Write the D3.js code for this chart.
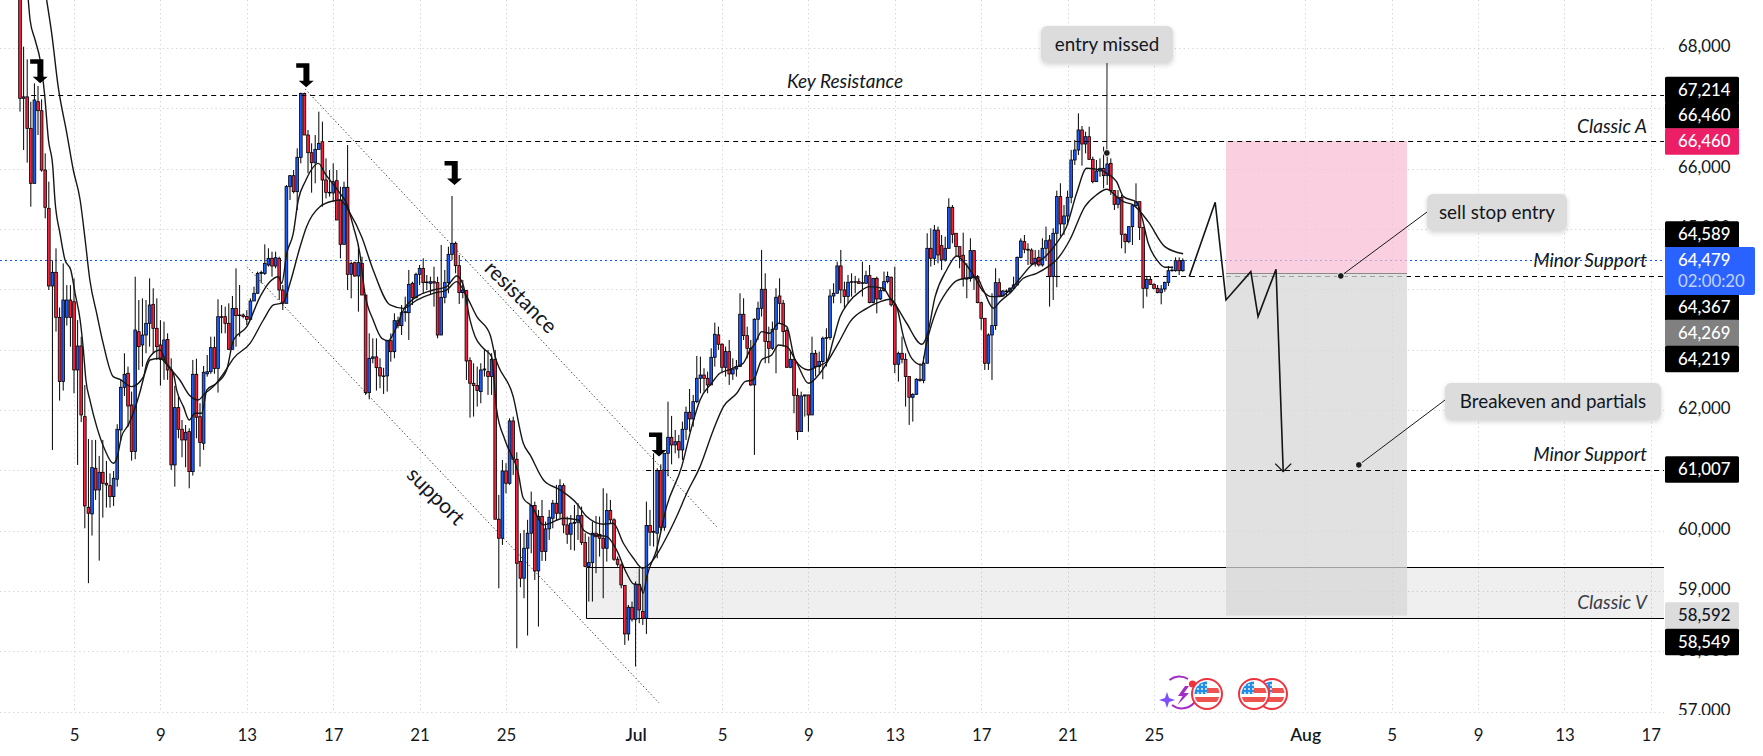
<!DOCTYPE html>
<html>
<head>
<meta charset="utf-8">
<title>BTCUSD 4H</title>
<script src="https://cdnjs.cloudflare.com/ajax/libs/d3/7.9.0/d3.min.js"></script>
<style>
  html, body { margin: 0; padding: 0; background: #fff; }
  svg { display: block; }
  text { font-family: Lato, "Noto Sans", sans-serif; }
</style>
</head>
<body>
<svg id="chart" width="1763" height="756"></svg>
<script>
// Four-hour candles. Bar 0 is the 5 June open, six bars to a day.
const firstBar = -15;

const opens = [
  69800,67166,67190,66668,65757,67110,66961,65978,65343,64056,
  64282,63536,62471,63536,63823,63795,62664,63061,61890,60388,
  60278,61035,60675,60968,60786,60747,60565,60853,61670,62377,
  62609,62084,61311,63298,63078,63243,63437,63751,63354,63078,
  62840,63171,62664,61090,62040,61681,61504,61642,60979,62592,
  61890,61449,62600,62635,63034,62690,63547,63547,63437,63006,
  63685,63564,63575,63550,63503,63807,63934,64265,64265,64403,
  64514,64387,64514,63989,63768,65702,65884,65619,66188,67248,
  66558,66265,66099,66320,66447,65812,65608,65597,65801,65481,
  64746,65691,64249,64442,64221,64431,63906,62288,62857,62880,
  62702,62565,62565,63149,62967,63481,63398,63613,63613,64100,
  63862,64249,64348,64111,64100,64127,64111,63243,63868,64111,
  64580,64763,64393,63946,63979,62819,62443,62405,62305,62664,
  62636,62554,62841,60190,59875,60990,60786,61819,61184,59488,
  59212,59709,59958,60416,59333,60234,59654,60030,60206,60455,
  60289,60747,60096,59941,60123,60140,60250,59803,59405,59470,
  59958,59940,59875,59709,60334,60180,59527,59433,59090,58289,
  58731,58532,59112,58660,58549,60085,59974,59958,60996,60057,
  61283,61548,61421,61476,61338,61681,61963,61852,62139,62526,
  62580,62526,62416,62874,63245,63090,62708,62968,62598,62680,
  62720,63587,63233,63023,62416,63504,63686,64001,63134,63023,
  63338,63890,63769,63316,62708,62841,62239,61642,62233,62250,
  61918,62940,62719,62803,63189,63200,63890,63935,64388,63990,
  63880,64117,64127,64127,64100,64100,64227,63780,64183,63840,
  63979,64128,64200,63743,62758,62940,62841,62554,62211,62260,
  62510,62490,62775,64680,64515,64982,64725,64487,64680,65360,
  64929,64708,64565,64172,64180,64642,64211,63780,63520,62775,
  63244,63399,64111,63890,63973,63960,64019,64073,64531,64791,
  64664,64650,64421,64531,64404,64680,64818,64211,64929,65537,
  65084,65216,65526,66144,66309,66641,66409,66530,66155,65785,
  65961,66006,65884,66088,65636,65409,65525,64912,64790,65039,
  65387,65453,65028,64017,64166,64083,64017,63945,64006,64116,
  64309,64309,64475,64309
];

const highs = [
  70000,68022,67812,67110,67414,67370,67149,66254,65785,64480,
  64680,63700,64430,64070,64070,64180,63490,63215,62415,61520,
  61504,61504,61239,61504,61156,60950,60990,61764,62500,62940,
  62719,62305,64210,63823,63850,63823,64182,64017,63851,63490,
  63464,63271,62857,62400,62222,61835,61752,61697,62830,62850,
  62112,62730,62912,63216,63216,63835,63740,63713,63768,63890,
  64348,64072,63600,63658,63851,64044,64293,64310,64746,64680,
  64624,64624,64541,64072,65729,65895,65978,66337,67260,67260,
  66641,66420,66558,66945,66779,66171,65978,66088,65978,65702,
  65784,66392,64459,64459,64746,64541,63906,63271,63188,63188,
  62857,62700,63149,63271,63602,63547,63740,63879,64321,64127,
  64276,64403,64514,64238,64210,64376,64210,64735,64321,64707,
  65548,64791,64570,64156,63990,62874,62775,62720,62775,62996,
  62996,62940,62996,60593,61173,61118,61863,61890,61300,59958,
  60013,60180,60648,60482,60344,60510,60151,60344,60510,60759,
  60852,60786,60234,60261,60427,60455,60400,59958,59902,60151,
  60245,60234,60703,60620,60510,60206,59571,59460,59101,58770,
  58825,59157,59377,59377,60482,60344,61283,61035,61100,61283,
  62139,61902,61670,61587,61808,62057,62349,62250,62896,62885,
  62692,62636,63023,63449,63382,63106,63051,63161,62857,62830,
  63935,63852,63382,63161,63520,63796,64653,64266,63382,63465,
  64018,64183,63824,63355,62996,62841,62360,62305,62250,62250,
  63216,62996,62968,63217,63355,64001,64100,64459,64653,64128,
  64239,64266,64222,64183,64459,64310,64404,64183,64211,64018,
  64294,64294,64211,64377,62968,63217,62941,62554,62278,62526,
  62775,62885,64929,65012,65067,65040,64901,64874,65509,65398,
  64929,64708,64940,64432,64846,64653,64238,63797,63520,63272,
  63935,64349,64183,63990,64000,64030,64211,64542,64846,64901,
  64763,64680,64653,64653,64846,65040,64901,65012,65636,65758,
  65398,65636,66310,66475,66917,66707,66613,66696,66199,66144,
  66171,66364,66309,66171,65636,65646,65564,64928,65039,65387,
  65757,65453,65028,64220,64220,64100,64072,64072,64127,64387,
  64376,64530,64530,64514
];

const lows = [
  66945,66309,66100,65370,65757,66558,65950,65177,63989,61338,
  63300,62156,62322,63400,63050,62277,61090,61800,60040,59130,
  59919,60510,59504,60217,60383,60383,60410,60730,61493,62233,
  61725,61161,61184,62664,62719,62940,63050,62940,62830,62404,
  62500,62500,61007,60730,61532,61217,61051,60703,60913,61532,
  61062,61338,62553,62600,62600,62289,63271,63271,62995,63006,
  63050,63216,63520,63409,63492,63807,63934,64100,64238,64376,
  64210,64348,63823,63658,63768,65481,65591,65315,66088,66558,
  65923,65602,65757,66320,65370,65508,65536,65453,65149,64514,
  64746,63989,63851,64210,63630,63906,62250,62178,62774,62322,
  62360,62266,62305,62801,62857,63354,63243,63464,63161,63740,
  63851,64072,63934,63989,63906,63713,63188,63243,63768,63934,
  64487,64266,63758,63852,62498,61874,61891,62057,62112,62554,
  62250,62250,60190,59046,59764,60620,60759,60924,58052,59063,
  58880,58262,59626,59184,58411,59499,59499,59847,60040,60179,
  60206,59958,59781,59681,59670,59847,59764,59394,58825,58825,
  59295,59571,58880,59488,60123,59500,59405,59046,58107,58179,
  58494,57748,58466,58438,58289,59748,59737,59543,60000,60000,
  60900,61100,61283,61200,61173,61504,61642,61725,62112,62277,
  62305,62277,62416,62719,62996,62609,62554,62416,62499,62554,
  62720,63161,62857,62400,61256,63161,63548,62775,62775,62996,
  62609,63438,63051,62700,62692,61946,61504,61642,61891,61642,
  61918,62554,62609,62510,62720,63161,63769,63935,63769,63686,
  63769,63880,63935,64090,63880,64100,63769,63769,63603,63824,
  63960,64100,63714,62609,62471,62775,62057,61753,61808,62250,
  62470,62443,62775,64377,64404,64432,64322,64460,64680,64763,
  64543,64349,64045,63852,64128,63990,63769,63327,62664,62664,
  62499,63327,63879,63879,63879,63935,63990,64073,64515,64598,
  64404,64404,64377,64377,64377,64487,63714,63824,64034,64874,
  64901,65067,65426,66061,66226,66050,66254,66144,65757,65784,
  65867,65674,65729,65564,65315,65343,64680,64597,64763,64735,
  65370,64818,63685,63879,64072,64000,63934,63752,63961,64055,
  64293,64293,64237,64293
];

const closes = [
  67166,67190,66668,65757,67138,66961,65978,65359,64056,64282,
  63536,62471,63823,63823,63536,62664,63061,61918,60410,60289,
  61045,60675,60968,60786,60758,60565,60869,61681,62377,62592,
  62067,61311,63326,63050,63243,63437,63740,63354,63050,62840,
  63161,62664,61090,62040,61681,61504,61631,60979,62592,61880,
  61460,62625,62635,63034,62690,63547,63536,63437,63006,63685,
  63564,63575,63550,63503,63807,63934,64265,64280,64431,64514,
  64387,64525,63989,63768,65702,65884,65619,66188,67248,66558,
  66265,66099,66320,66420,65812,65608,65597,65784,65149,64746,
  65691,64249,64431,64221,64442,63906,62288,62857,62880,62702,
  62565,62555,63149,62967,63481,63398,63613,63630,64083,63862,
  64249,64348,64111,64122,64127,64105,63243,63868,64111,64580,
  64763,64393,63946,63990,62813,62443,62405,62322,62664,62680,
  62554,62841,60190,59875,60990,60786,61819,61184,59460,59212,
  59709,59958,60416,59333,60234,59654,60030,60223,60455,60289,
  60747,60096,59941,60123,60140,60250,59803,59405,59470,59958,
  59900,59875,59709,60334,60180,59527,59444,59101,58289,58731,
  58532,59112,58687,58549,60085,59974,59990,60996,60057,61283,
  61548,61421,61476,61338,61681,61963,61852,62139,62526,62580,
  62526,62416,62874,63255,63090,62708,62968,62598,62680,62720,
  63587,63233,63023,62416,63504,63686,64001,63134,63023,63338,
  63868,63769,63299,62708,62841,62239,61642,62233,62250,61918,
  62940,62719,62803,63189,63200,63890,63935,64388,63990,63880,
  64117,64127,64120,64100,64110,64227,63780,64183,63840,63979,
  64128,64212,63743,62758,62940,62841,62554,62211,62260,62510,
  62490,62775,64680,64515,64982,64570,64487,64680,65360,64912,
  64708,64542,64172,64180,64642,64211,63780,63520,62775,63244,
  63399,64111,63890,63973,63960,64019,64073,64531,64802,64664,
  64650,64421,64515,64404,64680,64807,64211,64929,65537,65084,
  65216,65526,66144,66309,66641,66409,66530,66155,65785,65961,
  66006,65884,66077,65636,65409,65525,64912,64790,65039,65387,
  65453,65028,64017,64166,64083,64017,63945,64006,64116,64309,
  64319,64475,64309,64479
];

// Fast moving average, as [bar, price]
const fastAverage = [
  [-12.7,68795],[-12.2,68464],[-10.8,68132],[-9.4,67801],[-8.2,67248],[-7.1,66475],[-5.9,66033],[-5.3,65481],
  [-3.9,64928],[-2.5,64486],[-0.9,64321],[0.3,63934],[1.7,63492],[2.6,62995],[3.3,62498],[4.4,62167],[6.3,61725],
  [8.6,61338],[10.9,61117],[11.9,61200],[13.2,61559],[15.1,61753],[17.4,62112],[19.3,62526],[20.2,62774],[22.5,62967],
  [23.9,62995],[25.7,62774],[27.6,62608],[28.5,62333],[30.4,62056],[32,61835],[33.6,61946],[35.5,61946],[36.9,62333],
  [39.6,62443],[42.4,62664],[44.3,63161],[48,63381],[51.7,63879],[54.4,64127],[56.8,64210],[57.7,64100],[59.1,64597],
  [60.9,64928],[62.3,65481],[64.2,65784],[67.9,66088],[69.7,65922],[73.9,65591],[75.7,65425],[77.6,65039],[79.4,64597],
  [80.8,63934],[83.1,63492],[85.5,63188],[87.3,63149],[89.2,63326],[91.5,63658],[95.2,63879],[99.8,63989],[103.5,64044],
  [106.3,64222],[108.1,64073],[110,63493],[111.4,63217],[113.7,63023],[116,62885],[117.4,62001],[119.7,61504],
  [123.4,60952],[124.8,60538],[127.1,60411],[130.4,60096],[132.2,60123],[135.9,60206],[140.1,60178],[141.5,60013],
  [144.3,59930],[148,59902],[150.7,59681],[153.5,59295],[155.4,59118],[157.2,59101],[158.1,58963],[159.1,59239],
  [161.8,59681],[164.6,60399],[168.8,61062],[171.6,61725],[173.9,62167],[177.1,62443],[179.4,62609],[181.8,62664],
  [184.1,62719],[185.9,62775],[187.8,62996],[189.2,63106],[191,63299],[193.3,63272],[195.7,63438],[198,63382],
  [200.3,62830],[204,62664],[206.3,62719],[209.1,62802],[210.9,63161],[212.8,63548],[215,63769],[218.3,63962],
  [221,64045],[224.8,64018],[226.7,63852],[228.5,63714],[231.3,63438],[235.5,63090],[237,63244],[239.2,63879],
  [242.4,64321],[245.2,64553],[247.5,64432],[249.8,64238],[252.6,63962],[254.9,63879],[257.2,63879],[260,63990],
  [262.8,64183],[266,64404],[269.3,64515],[272.9,64763],[275.7,65039],[278.5,65592],[281.3,66006],[285,65979],
  [286.9,65923],[289.6,65785],[291.5,65537],[295.2,65443],[296.6,65205],[298.4,64763],[300.8,64487],[303,64367],[305.3,64367]
];

// Slow moving average, as [bar, price]
const slowAverage = [
  [-7.6,68795],[-6.2,68243],[-4.4,67359],[-2,66586],[-0.2,65978],[1.7,65481],[3.1,64818],[4.4,64155],[6.3,63602],
  [8.1,63105],[10.9,62553],[12.8,62508],[16,62388],[19.3,62553],[21.1,62829],[23.9,62857],[26.2,62719],[29.4,62498],
  [32,62250],[34.5,62167],[36.4,62277],[38.7,62388],[41.9,62636],[44.3,62857],[48.9,63105],[52.6,63492],[55.4,63741],
  [58.1,63779],[60,64100],[62.8,64707],[64.6,65039],[68.3,65370],[72,65464],[73.9,65481],[76.7,65260],[79.9,64873],
  [83.1,64321],[87.8,63741],[91.5,63685],[95.2,63823],[99.8,63934],[103.5,63989],[106.3,64128],[109.1,63879],
  [111.9,63548],[115.6,63244],[117,62885],[122,62222],[124.8,61449],[126.7,61255],[130.4,60841],[135,60676],
  [139.6,60455],[142.4,60234],[147,60107],[149.8,60123],[152.6,59792],[155.4,59543],[157.9,59378],[160.9,59516],
  [163.7,59792],[167.4,60234],[170.2,60620],[173.9,61062],[177.6,61670],[180.4,62056],[184.1,62277],[186.4,62471],
  [188.7,62498],[191,62830],[193.8,62913],[195.7,63078],[198,63051],[200.8,62775],[204,62443],[207.2,62609],
  [209.6,62830],[212.8,63161],[215.6,63465],[220.2,63686],[224,63797],[226.7,63835],[228.5,63714],[230.4,63217],
  [232.7,62857],[235.5,62747],[236.8,63106],[239.6,63658],[242.4,63962],[245.2,64145],[247.5,64183],[250.7,64200],
  [252.6,63990],[255.4,63686],[257.2,63796],[260.4,63962],[263.7,64183],[267.4,64266],[270.6,64377],[272.9,64487],
  [276.6,64818],[280.8,65371],[284,65564],[286.9,65658],[289.6,65537],[291.5,65454],[294.2,65399],[298.4,65122],
  [303,64708],[308.1,64589]
];

// Axis ticks
const gridPrices = [68000,67000,66000,65000,64000,63000,62000,61000,60000,59000,58000,57000];
const priceTickLabels = [68000,66000,65000,62000,60000,59000,58000,57000];
const dateTickBars = [0,24,48,72,96,120,156,180,204,228,252,276,300,342,366,390,414,438];
const dateTickLabels = ["5","9","13","17","21","25","Jul","5","9","13","17","21","25","Aug","5","9","13","17"];

// Horizontal levels: price and first bar
const levelPrices = [67214, 66460, 61007];
const levelStartBars = [-11.9, 70.6, 158.9];
const minorSupportPrice = 64219;
const minorSupportStart = 270;
const lastPrice = 64479;

// Demand zone
const zoneTop = 59399;
const zoneBottom = 58549;
const zoneStartBar = 142.1;

// Short position drawing
const stopPrice = 66460;
const entryPrice = 64269;
const targetPrice = 58592;
const positionBars = [320, 370.3];

// Channel lines, as [bar, price] pairs
const resistanceLine = [[64.2,67321],[178.5,60068]];
const supportLine = [[48,64376],[162.5,57147]];

// Projected path, as [bar, price]
const projectedPath = [[309.8,64211],[317,65443],[320,63824],[326.9,64293],[328.9,63548],[333.9,64333],[335.9,60979]];

// Swing markers: arrow tip at [bar, price]
const swingMarkers = [[-9.4,67415],[64.5,67349],[105.7,65730],[162.5,61228]];

// Price scale tags: text, fill, ink and tag centre
const tagTexts = ["67,214","66,460","66,460","64,589","64,367","64,269","64,219","61,007","58,592","58,549"];
const tagFills = ["#000","#000","#ec1e66","#000","#000","#808080","#000","#000","#dcdcdc","#000"];
const tagInks  = ["#fff","#fff","#fff","#fff","#fff","#fff","#fff","#fff","#131722","#fff"];
const tagCentres = [90,115.5,141.5,234.5,307.5,333,359,469.5,615.5,642];

const width = 1763, height = 756;
const paneRight = 1664, paneBottom = 712;

const x = d3.scaleLinear().domain([-20.56, 441.67]).range([0, paneRight]);
const y = d3.scaleLinear().domain([68000, 57000]).range([48, 711.7]);
// Horizontal rules sit on a pixel row so they stay one pixel thick
const rowY = p => Math.round(y(p)) + 0.5;

const svg = d3.select("#chart");
const defs = svg.append("defs");
defs.append("clipPath").attr("id", "pane").append("rect")
  .attr("x", 0).attr("y", 0).attr("width", paneRight).attr("height", paneBottom);
defs.append("clipPath").attr("id", "scale").append("rect")
  .attr("x", paneRight).attr("y", 0).attr("width", width - paneRight).attr("height", 715);
const soft = defs.append("filter").attr("id", "soft")
  .attr("x", "-10%").attr("y", "-20%").attr("width", "120%").attr("height", "150%");
soft.append("feDropShadow").attr("dx", 0).attr("dy", 2).attr("stdDeviation", 2.5)
  .attr("flood-color", "#000").attr("flood-opacity", 0.16);

// Dotted grid
const grid = svg.append("g").attr("stroke", "#cfd1d6").attr("stroke-width", 1).attr("stroke-dasharray", "1.2 3.2");
grid.selectAll("line.h").data(gridPrices).join("line").attr("class", "h")
  .attr("x1", 0).attr("x2", paneRight).attr("y1", d => rowY(d)).attr("y2", d => rowY(d));
grid.selectAll("line.v").data(dateTickBars).join("line").attr("class", "v")
  .attr("x1", d => Math.round(x(d)) + 0.5).attr("x2", d => Math.round(x(d)) + 0.5).attr("y1", 0).attr("y2", paneBottom);

// Last price line and the level that runs under the position box
svg.append("line").attr("x1", 0).attr("x2", paneRight).attr("y1", rowY(lastPrice)).attr("y2", rowY(lastPrice))
  .attr("stroke", "#0f55ff").attr("stroke-width", 1).attr("stroke-dasharray", "2 3");
svg.append("line").attr("x1", x(minorSupportStart)).attr("x2", paneRight)
  .attr("y1", rowY(minorSupportPrice)).attr("y2", rowY(minorSupportPrice))
  .attr("stroke", "#000").attr("stroke-width", 1).attr("stroke-dasharray", "5 4");

// Demand zone
const zone = svg.append("g");
zone.append("rect").attr("x", x(zoneStartBar)).attr("y", rowY(zoneTop))
  .attr("width", paneRight - x(zoneStartBar)).attr("height", rowY(zoneBottom) - rowY(zoneTop))
  .attr("fill", "rgba(120,123,134,0.12)");
zone.append("path")
  .attr("d", `M${paneRight},${rowY(zoneTop)}H${Math.round(x(zoneStartBar)) + 0.5}V${rowY(zoneBottom)}H${paneRight}`)
  .attr("fill", "none").attr("stroke", "#000").attr("stroke-width", 1);

// Channel lines
const priceLine = d3.line().x(d => x(d[0])).y(d => y(d[1]));
svg.append("g").selectAll("path").data([resistanceLine, supportLine]).join("path")
  .attr("d", priceLine).attr("fill", "none").attr("stroke", "#333")
  .attr("stroke-width", 1).attr("stroke-dasharray", "1.3 2.4");

// Candles
const candles = svg.append("g").attr("clip-path", "url(#pane)");
const bars = d3.range(opens.length);
candles.selectAll("line").data(bars).join("line")
  .attr("x1", i => x(i + firstBar)).attr("x2", i => x(i + firstBar))
  .attr("y1", i => y(highs[i])).attr("y2", i => y(lows[i]))
  .attr("stroke", "#000").attr("stroke-width", 1);
candles.selectAll("rect").data(bars).join("rect")
  .attr("x", i => x(i + firstBar) - 1.35).attr("width", 2.7)
  .attr("y", i => y(Math.max(opens[i], closes[i])))
  .attr("height", i => Math.max(0.6, Math.abs(y(opens[i]) - y(closes[i]))))
  .attr("fill", i => closes[i] >= opens[i] ? "#1f5cff" : "#f8203a")
  .attr("stroke", "#000").attr("stroke-width", 0.8);

// Moving averages
const smooth = d3.line().x(d => x(d[0])).y(d => y(d[1])).curve(d3.curveMonotoneX);
const averages = svg.append("g").attr("clip-path", "url(#pane)");
averages.selectAll("path").data([fastAverage, slowAverage]).join("path")
  .attr("d", smooth).attr("fill", "none").attr("stroke", "#161616").attr("stroke-width", 1.4);

// Short position box
const position = svg.append("g");
position.append("rect").attr("x", x(positionBars[0])).attr("width", x(positionBars[1]) - x(positionBars[0]))
  .attr("y", y(stopPrice)).attr("height", y(entryPrice) - y(stopPrice)).attr("fill", "rgba(248,192,214,0.75)");
position.append("rect").attr("x", x(positionBars[0])).attr("width", x(positionBars[1]) - x(positionBars[0]))
  .attr("y", y(entryPrice)).attr("height", y(targetPrice) - y(entryPrice)).attr("fill", "rgba(215,215,215,0.75)");
position.append("line").attr("x1", x(positionBars[0])).attr("x2", x(positionBars[1]))
  .attr("y1", rowY(entryPrice)).attr("y2", rowY(entryPrice)).attr("stroke", "#8a8a8a").attr("stroke-width", 1);

// Dashed levels
svg.append("g").selectAll("line").data(levelPrices).join("line")
  .attr("x1", (d, i) => x(levelStartBars[i])).attr("x2", paneRight)
  .attr("y1", d => rowY(d)).attr("y2", d => rowY(d))
  .attr("stroke", "#000").attr("stroke-width", 1).attr("stroke-dasharray", "5 4");

// Projected path with an open arrow head
svg.append("path").datum(projectedPath).attr("d", priceLine)
  .attr("fill", "none").attr("stroke", "#141414").attr("stroke-width", 1.6);
const tip = projectedPath[projectedPath.length - 1];
svg.append("path")
  .attr("d", `M${x(tip[0]) - 8},${y(tip[1]) - 8}L${x(tip[0])},${y(tip[1])}L${x(tip[0]) + 8},${y(tip[1]) - 8}`)
  .attr("fill", "none").attr("stroke", "#141414").attr("stroke-width", 1.4);

// Swing markers
svg.append("g").selectAll("path").data(swingMarkers).join("path")
  .attr("transform", d => `translate(${x(d[0])},${y(d[1])})`)
  .attr("d", "M0,0L-7.5,-6.5H-2.8V-19.5H-10V-24H3.2V-6.5H7.5Z")
  .attr("fill", "#000");

// Level captions
const captions = svg.append("g").attr("font-size", 19).attr("font-style", "italic").attr("fill", "#131722");
captions.append("text").attr("x", 845).attr("y", 81).attr("text-anchor", "middle").attr("dy", "0.35em").text("Key Resistance");
captions.append("text").attr("x", 1647).attr("y", 126).attr("text-anchor", "end").attr("dy", "0.35em").text("Classic A");
captions.append("text").attr("x", 1647).attr("y", 260).attr("text-anchor", "end").attr("dy", "0.35em").text("Minor Support");
captions.append("text").attr("x", 1647).attr("y", 454).attr("text-anchor", "end").attr("dy", "0.35em").text("Minor Support");
captions.append("text").attr("x", 1647).attr("y", 602).attr("text-anchor", "end").attr("dy", "0.35em").attr("fill", "#3a3d45").text("Classic V");

// Channel captions
const slanted = svg.append("g").attr("font-size", 21).attr("fill", "#131722").attr("text-anchor", "middle");
slanted.append("text").attr("transform", "translate(521,297) rotate(45)").attr("dy", "0.35em").text("resistance");
slanted.append("text").attr("transform", "translate(436,496) rotate(45)").attr("dy", "0.35em").text("support");

// Callouts: anchor [bar, price], box edges in px, where the leader meets the box
function callout(text, anchor, box, joint) {
  const g = svg.append("g");
  const ax = x(anchor[0]), ay = y(anchor[1]);
  g.append("line").attr("x1", ax).attr("y1", ay).attr("x2", joint[0]).attr("y2", joint[1])
    .attr("stroke", "#1a1a1a").attr("stroke-width", 1);
  g.append("circle").attr("cx", ax).attr("cy", ay).attr("r", 3.4)
    .attr("fill", "#1a1a1a").attr("stroke", "#fff").attr("stroke-width", 1);
  g.append("rect").attr("x", box[0]).attr("y", box[1]).attr("width", box[2] - box[0]).attr("height", box[3] - box[1])
    .attr("rx", 6).attr("fill", "#dcdcdc").attr("filter", "url(#soft)");
  g.append("text").attr("x", (box[0] + box[2]) / 2).attr("y", (box[1] + box[3]) / 2).attr("dy", "0.33em")
    .attr("text-anchor", "middle").attr("font-size", 18.8).attr("fill", "#131722").text(text);
}
callout("entry missed", [286.9, 66260], [1041, 26, 1173, 63], [1107, 62]);
callout("sell stop entry", [351.9, 64222], [1427, 194, 1567, 231], [1427, 212]);
callout("Breakeven and partials", [356.9, 61090], [1445, 383, 1661, 420], [1445, 400]);

// Price axis
const priceAxis = d3.axisRight(y).tickValues(priceTickLabels).tickFormat(d3.format(",")).tickSize(0).tickPadding(0);
const priceScaleG = svg.append("g").attr("clip-path", "url(#scale)");
const priceAxisG = priceScaleG.append("g").attr("transform", "translate(1678,-1.5)").call(priceAxis);
priceAxisG.select(".domain").remove();
priceAxisG.selectAll("text").attr("font-size", 16.8).attr("fill", "#131722").style("font-family", "Lato, 'Noto Sans', sans-serif");

// Date axis
const dateAxis = d3.axisBottom(x).tickValues(dateTickBars).tickFormat((d, i) => dateTickLabels[i]).tickSize(0).tickPadding(0);
const dateAxisG = svg.append("g").attr("transform", "translate(0,729)").call(dateAxis);
dateAxisG.select(".domain").remove();
dateAxisG.selectAll("text").attr("fill", "#131722")
  .style("font-family", "Lato, 'Noto Sans', sans-serif")
  .attr("font-size", (d, i) => /[A-Z]/.test(dateTickLabels[i]) ? 17.5 : 16.8)
  .attr("font-weight", (d, i) => /[A-Z]/.test(dateTickLabels[i]) ? 600 : 400);

// Price scale tags
const tags = svg.append("g").selectAll("g").data(tagTexts).join("g")
  .attr("transform", (d, i) => `translate(1665,${tagCentres[i]})`);
tags.append("rect").attr("x", 0).attr("y", -13.2).attr("width", 74).attr("height", 26.4)
  .attr("rx", 1.5).attr("fill", (d, i) => tagFills[i]);
tags.append("text").attr("x", 13).attr("dy", "0.35em").attr("font-size", 16.8).attr("font-weight", 500)
  .attr("fill", (d, i) => tagInks[i]).text(d => d);

// Last price tag with the bar countdown
const lastTag = svg.append("g").attr("transform", "translate(1665,247)");
lastTag.append("rect").attr("width", 90).attr("height", 48).attr("rx", 2).attr("fill", "#2962ff");
lastTag.append("text").attr("x", 13).attr("y", 13).attr("dy", "0.35em").attr("font-size", 16.8).attr("font-weight", 500)
  .attr("fill", "#fff").text(d3.format(",")(lastPrice));
lastTag.append("text").attr("x", 13).attr("y", 34).attr("dy", "0.35em").attr("font-size", 16.8)
  .attr("fill", "#c3d3ff").text("02:00:20");

// Economic calendar badges below the candles
function usFlag(cx, cy) {
  const id = `flag-${cx}`;
  defs.append("clipPath").attr("id", id).append("circle").attr("cx", cx).attr("cy", cy).attr("r", 12.5);
  const g = svg.append("g");
  g.append("circle").attr("cx", cx).attr("cy", cy).attr("r", 15).attr("fill", "#fff")
    .attr("stroke", "#f0323f").attr("stroke-width", 2);
  const inner = g.append("g").attr("clip-path", `url(#${id})`);
  inner.append("rect").attr("x", cx - 13).attr("y", cy - 13).attr("width", 26).attr("height", 26).attr("fill", "#fff");
  inner.append("rect").attr("x", cx).attr("y", cy - 6).attr("width", 13).attr("height", 5).attr("fill", "#ef5350");
  inner.append("rect").attr("x", cx - 13).attr("y", cy + 3).attr("width", 26).attr("height", 5).attr("fill", "#ef5350");
  inner.append("rect").attr("x", cx - 13).attr("y", cy - 13).attr("width", 13).attr("height", 13).attr("fill", "#1f8fe8");
  [-9, -5, -1].forEach(dx => [-9, -5, -1].forEach(dy =>
    inner.append("circle").attr("cx", cx + dx).attr("cy", cy + dy).attr("r", 0.9).attr("fill", "#fff")));
}
const earnings = svg.append("g");
earnings.append("path").attr("d", "M1169.5,680A16,16 0 0 1 1188,679M1196,700A16,16 0 0 1 1172,705")
  .attr("fill", "none").attr("stroke", "#a32cc4").attr("stroke-width", 2);
earnings.append("path").attr("d", "M1185,686L1178,696H1182.5L1177.5,705L1189,693H1184L1189,686Z").attr("fill", "#a32cc4");
earnings.append("path").attr("d", "M1167,692L1169,698L1175,700L1169,702L1167,708L1165,702L1159,700L1165,698Z").attr("fill", "#7c4dff");
usFlag(1207, 694);
earnings.append("circle").attr("cx", 1192.5).attr("cy", 684).attr("r", 3.6).attr("fill", "#f0323f");
usFlag(1272, 694);
usFlag(1254, 694);
</script>
</body>
</html>
